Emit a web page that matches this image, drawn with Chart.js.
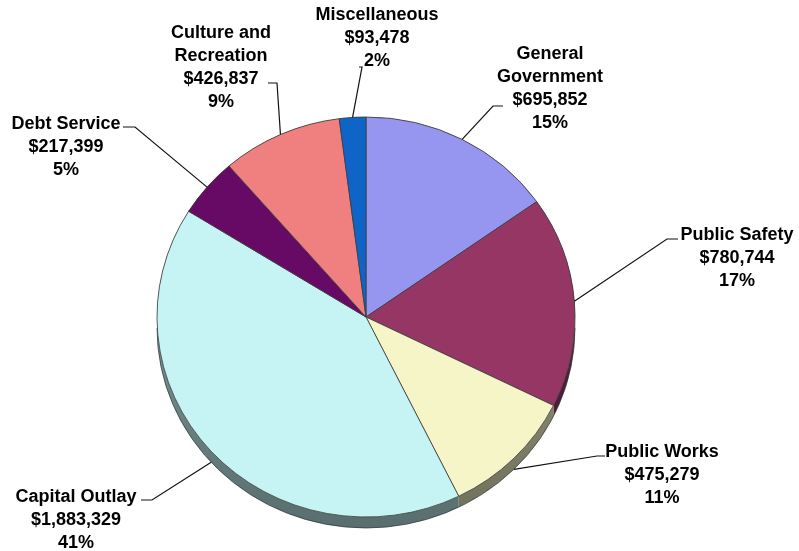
<!DOCTYPE html>
<html>
<head>
<meta charset="utf-8">
<script src="https://cdn.jsdelivr.net/npm/chart.js@4.4.0/dist/chart.umd.min.js"></script>
<style>
  html, body { margin: 0; padding: 0; background: #fff; }
  #wrap { width: 799px; height: 551px; position: relative; }
</style>
</head>
<body>
<div id="wrap"><canvas id="expenditureChart"></canvas></div>
<script>
// ========== EXPENDITURES PIE ==========

const categories = ['General Government', 'Public Safety', 'Public Works', 'Capital Outlay',
  'Debt Service', 'Culture and Recreation', 'Miscellaneous'];
const amounts = [695852, 780744, 475279, 1883329, 217399, 426837, 93478];
const percentLabels = ['15%', '17%', '11%', '41%', '5%', '9%', '2%'];
const nameLines = [['General', 'Government'], ['Public Safety'], ['Public Works'], ['Capital Outlay'],
  ['Debt Service'], ['Culture and', 'Recreation'], ['Miscellaneous']];

const sliceColors = ['#9696f0', '#963664', '#f5f5c8', '#c6f4f4', '#660a66', '#f08080', '#0f64c8'];

// text block centre (first line) + leader elbow/tail, in canvas px
const labelLayout = [
  { x: 550, y: 54, elbow: [493, 106], tail: [503, 106] },
  { x: 737, y: 235, elbow: [667, 239], tail: [678, 239] },
  { x: 662, y: 452, elbow: [597, 456], tail: [605, 456] },
  { x: 76, y: 497, elbow: [152, 500], tail: [141, 500] },
  { x: 66, y: 124, elbow: [135, 127], tail: [123, 127] },
  { x: 221, y: 33, elbow: [277, 83], tail: [268, 83] },
  { x: 377, y: 15, elbow: [362, 67], tail: [359, 67] }
];

const TILT = 200 / 209;   // slight vertical squash
const DEPTH = 11;         // side wall height
const LINE_H = 23;

function shade(hex, f) {
  const n = parseInt(hex.slice(1), 16);
  const r = Math.round(((n >> 16) & 255) * f);
  const g = Math.round(((n >> 8) & 255) * f);
  const b = Math.round((n & 255) * f);
  return `rgb(${r},${g},${b})`;
}

// squash the pie and draw its side wall underneath
const tiltPlugin = {
  id: 'tilt3d',
  beforeDatasetsDraw(chart) {
    const ctx = chart.ctx;
    const arcs = chart.getDatasetMeta(0).data;
    const { x, y } = arcs[0];
    ctx.save();
    ctx.translate(x, y);
    ctx.scale(1, TILT);
    ctx.translate(-x, -y);
    const d = DEPTH / TILT;
    arcs.forEach((el, i) => {
      const p = el.getProps(['x', 'y', 'startAngle', 'endAngle', 'outerRadius'], true);
      ctx.beginPath();
      ctx.arc(p.x, p.y, p.outerRadius, p.startAngle, p.endAngle);
      ctx.arc(p.x, p.y + d, p.outerRadius, p.endAngle, p.startAngle, true);
      ctx.closePath();
      const grad = ctx.createLinearGradient(0, p.y, 0, p.y + p.outerRadius + d);
      grad.addColorStop(0, shade(sliceColors[i], 0.6));
      grad.addColorStop(1, shade(sliceColors[i], 0.45));
      ctx.fillStyle = grad;
      ctx.fill();
    });
    // bottom outline of the wall
    ctx.beginPath();
    ctx.arc(x, y + d, arcs[0].outerRadius, 0, Math.PI);
    ctx.strokeStyle = 'rgba(40,50,50,0.7)';
    ctx.lineWidth = 1;
    ctx.stroke();
  },
  afterDatasetsDraw(chart) {
    chart.ctx.restore();
  }
};

// callout labels with leader lines
const calloutPlugin = {
  id: 'callouts',
  afterDraw(chart) {
    const ctx = chart.ctx;
    const arcs = chart.getDatasetMeta(0).data;
    ctx.save();
    arcs.forEach((el, i) => {
      const p = el.getProps(['x', 'y', 'startAngle', 'endAngle', 'outerRadius'], true);
      const mid = (p.startAngle + p.endAngle) / 2;
      const s = Math.sin(mid);
      const ax = p.x + p.outerRadius * Math.cos(mid);
      const ay = p.y + p.outerRadius * s * TILT + (s > 0.2 ? DEPTH : 0);
      const lay = labelLayout[i];

      ctx.beginPath();
      ctx.moveTo(ax, ay);
      ctx.lineTo(lay.elbow[0], lay.elbow[1]);
      ctx.lineTo(lay.tail[0], lay.tail[1]);
      ctx.strokeStyle = '#111';
      ctx.lineWidth = 1.2;
      ctx.stroke();

      const lines = [...nameLines[i], '$' + amounts[i].toLocaleString('en-US'), percentLabels[i]];
      ctx.fillStyle = '#000';
      ctx.font = 'bold 18px "Liberation Sans", Arial, sans-serif';
      ctx.textAlign = 'center';
      ctx.textBaseline = 'middle';
      lines.forEach((t, k) => ctx.fillText(t, lay.x, lay.y + k * LINE_H));
    });
    ctx.restore();
  }
};

new Chart(document.getElementById('expenditureChart'), {
  type: 'pie',
  data: {
    labels: categories,
    datasets: [{
      data: amounts,
      backgroundColor: sliceColors,
      borderColor: 'rgba(60,60,60,0.85)',
      borderWidth: 1,
      radius: 209
    }]
  },
  options: {
    responsive: true,
    maintainAspectRatio: false,
    animation: false,
    layout: { padding: { left: 0, right: 67, top: 83, bottom: 0 } },
    plugins: {
      legend: { display: false },
      tooltip: { enabled: false }
    }
  },
  plugins: [tiltPlugin, calloutPlugin]
});
</script>
</body>
</html>
